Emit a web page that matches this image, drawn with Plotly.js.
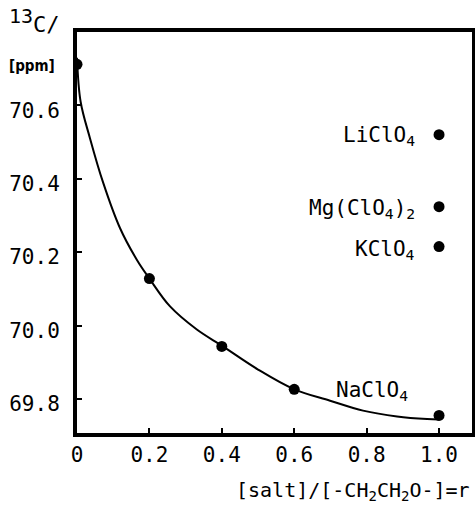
<!DOCTYPE html>
<html>
<head>
<meta charset="utf-8">
<script src="https://cdn.plot.ly/plotly-3.0.1.min.js"></script>
<style>html,body{margin:0;padding:0;background:#fff;}#chart{width:475px;height:513px;}</style>
</head>
<body>
<div id="chart"></div>
<script>
// NaClO4 series (measured points)
const naR = [0, 0.2, 0.4, 0.6, 1.0];
const naShift = [70.712, 70.128, 69.943, 69.826, 69.755];
// Other salts at r = 1.0
const saltR = [1.0, 1.0, 1.0];
const saltShift = [70.52, 70.324, 70.215];
const saltNames = ['LiClO<sub>4</sub>', 'Mg(ClO<sub>4</sub>)<sub>2</sub>', 'KClO<sub>4</sub>'];
// Fitted curve
const curveR = [0, 0.01, 0.036, 0.072, 0.119, 0.166, 0.2, 0.257, 0.331, 0.403, 0.5, 0.6, 0.699, 0.79, 0.884, 0.967, 1.0];
const curveShift = [70.73, 70.61, 70.51, 70.39, 70.265, 70.178, 70.128, 70.052, 69.989, 69.943, 69.88, 69.826, 69.795, 69.768, 69.752, 69.745, 69.744];
// Ticks
const xTicks = [0, 0.2, 0.4, 0.6, 0.8, 1.0];
const xTickText = ['0', '0.2', '0.4', '0.6', '0.8', '1.0'];
const yTicks = [69.8, 70.0, 70.2, 70.4, 70.6];
const yTickText = ['69.8', '70.0', '70.2', '70.4', '70.6'];

const FONT = 'DejaVu Sans Mono, Liberation Mono, monospace';

const traces = [
  {x: curveR, y: curveShift, mode: 'lines', line: {color: '#000', width: 2, shape: 'spline', smoothing: 1}, hoverinfo: 'skip'},
  {x: naR, y: naShift, mode: 'markers', marker: {color: '#000', size: 11}},
  {x: saltR, y: saltShift, mode: 'markers', marker: {color: '#000', size: 11}}
];

const annotations = [
  {text: saltNames[0], x: 0.94, y: saltShift[0], xanchor: 'right', yanchor: 'middle', yshift: -1},
  {text: saltNames[1], x: 0.94, y: saltShift[1], xanchor: 'right', yanchor: 'middle', yshift: -2},
  {text: saltNames[2], x: 0.94, y: saltShift[2], xanchor: 'right', yanchor: 'middle', yshift: -3},
  {text: 'NaClO<sub>4</sub>', x: 0.92, y: naShift[4], xanchor: 'right', yanchor: 'middle', yshift: 24},
].map(a => Object.assign({xref: 'x', yref: 'y', showarrow: false, font: {family: FONT, size: 21, color: '#000'}}, a));

annotations.push({text: '[salt]/[-CH<sub>2</sub>CH<sub>2</sub>O-]=r', xref: 'paper', yref: 'paper', x: 1.0, y: -0.145, xanchor: 'right', yanchor: 'middle', showarrow: false, font: {family: FONT, size: 20, color: '#000'}});
annotations.push({text: '<sup><span style="font-size:20px">13</span></sup>C/', xref: 'paper', yref: 'paper', x: -0.178, y: 1.028, xanchor: 'left', yanchor: 'middle', showarrow: false, font: {family: FONT, size: 22, color: '#000'}});
annotations.push({text: '<b>[ppm]</b>', xref: 'paper', yref: 'paper', x: -0.178, y: 0.915, xanchor: 'left', yanchor: 'middle', showarrow: false, font: {family: 'DejaVu Sans Condensed, DejaVu Sans, sans-serif', size: 15, color: '#000'}});

const layout = {
  width: 475, height: 513,
  margin: {l: 77, r: 3, t: 32, b: 80},
  paper_bgcolor: '#fff', plot_bgcolor: '#fff',
  showlegend: false,
  font: {family: FONT, size: 21, color: '#000'},
  xaxis: {
    range: [0, 1.091], tickvals: xTicks, ticktext: xTickText,
    ticks: 'inside', ticklen: 5, tickwidth: 2, tickcolor: '#000',
    showline: true, linewidth: 4, linecolor: '#000', mirror: true,
    showgrid: false, zeroline: false, fixedrange: true,
    tickfont: {family: FONT, size: 21, color: '#000'}
  },
  yaxis: {
    range: [69.707, 70.80], tickvals: yTicks, ticktext: yTickText,
    ticks: 'inside', ticklen: 5, tickwidth: 2, tickcolor: '#000',
    showline: true, linewidth: 4, linecolor: '#000', mirror: true,
    showgrid: false, zeroline: false, fixedrange: true,
    ticklabelstandoff: 9, ticklabelshift: 5,
    tickfont: {family: FONT, size: 21, color: '#000'}
  },
  annotations: annotations
};

Plotly.newPlot('chart', traces, layout, {staticPlot: true, displayModeBar: false});
</script>
</body>
</html>
